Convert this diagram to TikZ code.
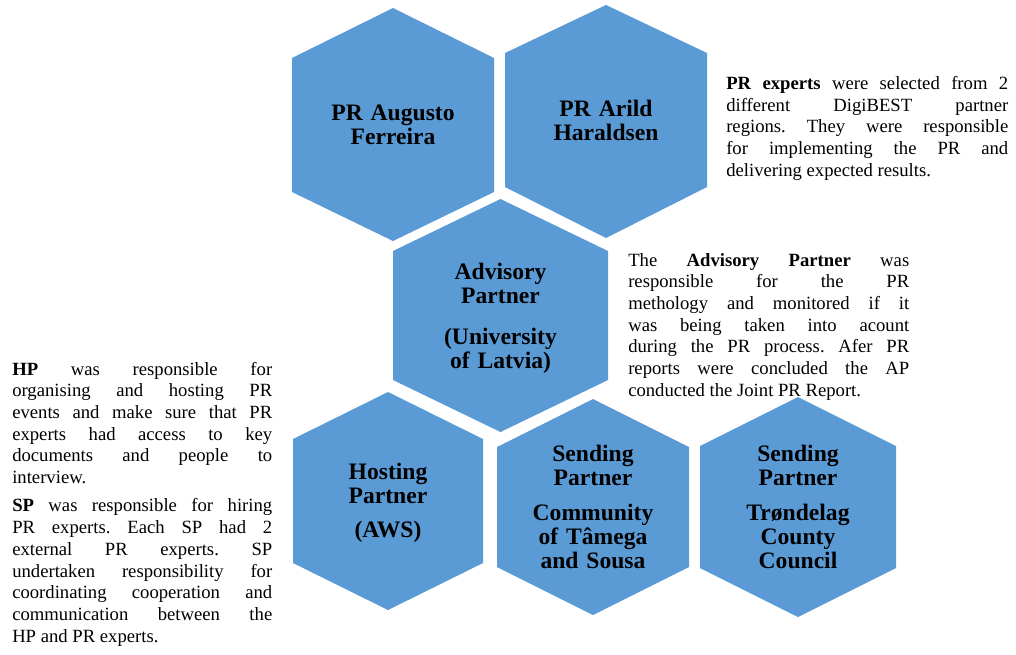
\documentclass[tikz,border=0pt]{standalone}
\usepackage{fontspec}
\setmainfont{Liberation Serif}
\definecolor{hexblue}{HTML}{5B9BD5}

\begin{document}
\begin{tikzpicture}
[x=0.75pt,y=-0.75pt,
 hexa/.style={fill=hexblue},
 lbl/.style={inner sep=0pt,anchor=base,text width=140pt,align=center,
   font=\fontsize{17.7}{18.2}\selectfont\bfseries},
 note/.style={inner sep=0pt,anchor=base west,align=justify,
   font=\fontsize{14}{16.3}\selectfont,
   execute at begin node={\tolerance=10000\hyphenpenalty=10000\frenchspacing}}]
\useasboundingbox (0,0) rectangle (1016,654);

% the six hexagons
\fill [hexa] (393,8) -- (494,58) -- (494,192) -- (393,241) -- (292,192) -- (292,58) -- cycle;
\fill [hexa] (606,5) -- (707,53) -- (707,187) -- (606,238) -- (505,187) -- (505,53) -- cycle;
\fill [hexa] (500.5,199) -- (608,251) -- (608,380) -- (500.5,432) -- (393,380) -- (393,251) -- cycle;
\fill [hexa] (388,392) -- (483,439) -- (483,563) -- (388,610) -- (293,563) -- (293,439) -- cycle;
\fill [hexa] (593,399) -- (689,447) -- (689,567) -- (593,615) -- (497,567) -- (497,447) -- cycle;
\fill [hexa] (798,397) -- (896,446) -- (896,568) -- (798,617) -- (700,568) -- (700,446) -- cycle;

% labels inside
\node [lbl] (augusto) at (393,120.7) {PR Augusto\\Ferreira};
\node [lbl] (arild) at (606,116.7) {PR Arild\\Haraldsen};
\node [lbl] (advisory) at (500.5,279) {Advisory\\Partner\\[12.7pt] (University\\of Latvia)};
\node [lbl] (hosting) at (388,479.3) {Hosting\\Partner\\[7pt](AWS)};
\node [lbl] (tamega) at (593,461.7) {Sending\\Partner\\[7.5pt]Community\\of Tâmega\\and Sousa};
\node [lbl] (trondelag) at (798,461.7) {Sending\\Partner\\[7.5pt]Trøndelag\\County\\Council};

% side notes
\node [note,text width=211.5pt] (prnote) at (726,89.3)
  {\textbf{PR experts} were selected from 2\linebreak
   different DigiBEST partner\linebreak
   regions. They were responsible\linebreak
   for implementing the PR and\linebreak
   delivering expected results.};
\node [note,text width=210.75pt] (apnote) at (628,266)
  {The \textbf{Advisory Partner} was\linebreak
   responsible for the PR\linebreak
   methology and monitored if it\linebreak
   was being taken into acount\linebreak
   during the PR process. Afer PR\linebreak
   reports were concluded the AP\linebreak
   conducted the Joint PR Report.};
\node [note,text width=195pt] (hpnote) at (12,375)
  {\textbf{HP} was responsible for\linebreak
   organising and hosting PR\linebreak
   events and make sure that PR\linebreak
   experts had access to key\linebreak
   documents and people to\linebreak
   interview.\par\vspace{4.9pt}
   \textbf{SP} was responsible for hiring\linebreak
   PR experts. Each SP had 2\linebreak
   external PR experts. SP\linebreak
   undertaken responsibility for\linebreak
   coordinating cooperation and\linebreak
   communication between the\linebreak
   HP and PR experts.};
\end{tikzpicture}
\end{document}
